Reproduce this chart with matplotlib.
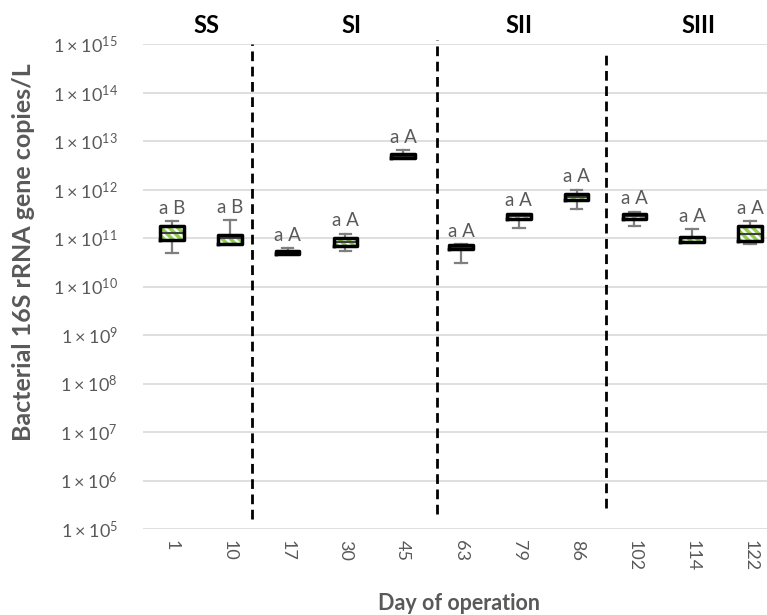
import math
import matplotlib
matplotlib.use("Agg")
import matplotlib.pyplot as plt
from matplotlib.ticker import FixedLocator, FuncFormatter

plt.rcParams['font.family'] = ['Lato', 'DejaVu Sans']
plt.rcParams['mathtext.fontset'] = 'custom'
plt.rcParams['mathtext.rm'] = 'Lato'
plt.rcParams['mathtext.default'] = 'regular'
plt.rcParams['hatch.linewidth'] = 2.5

# -----------------------------
# Data
# -----------------------------
days = ['1', '10', '17', '30', '45', '63', '79', '86', '102', '114', '122']
whis_hi = [2.2e11, 2.3e11, 6.2e10, 1.23e11, 6.6e12, 7.6e10, 3.2e11, 1.0e12, 3.5e11, 1.55e11, 2.2e11]
q3 = [1.75e11, 1.17e11, 5.5e10, 9.8e10, 5.4e12, 7.2e10, 3.2e11, 8.1e11, 3.2e11, 1.07e11, 1.74e11]
med = [1.25e11, 1.0e11, 5.1e10, 8.1e10, 4.9e12, 6.6e10, 2.8e11, 7.1e11, 2.8e11, 1.0e11, 1.23e11]
q1 = [9.1e10, 7.6e10, 4.7e10, 6.8e10, 4.5e12, 5.8e10, 2.5e11, 6.2e11, 2.45e11, 8.3e10, 8.7e10]
whis_lo = [4.9e10, 7.6e10, 4.7e10, 5.5e10, 4.5e12, 3.0e10, 1.6e11, 4.0e11, 1.8e11, 8.3e10, 7.6e10]
letters = ['a B', 'a B', 'a A', 'a A', 'a A', 'a A', 'a A', 'a A', 'a A', 'a A', 'a A']

stages = ['SS', 'SI', 'SII', 'SIII']
stage_x = [0.6, 3.1, 6.0, 9.1]
divider_x = [1.38, 4.58, 7.5]
divider_top = [1.0, 1.008, 0.981]
divider_bottom = [0.021, 0.031, 0.043]

stats = [dict(med=m, q1=a, q3=b, whislo=lo, whishi=hi, fliers=[])
         for m, a, b, lo, hi in zip(med, q1, q3, whis_lo, whis_hi)]
pos = list(range(len(days)))

# -----------------------------
# Figure
# -----------------------------
fig = plt.figure(figsize=(7.67, 6.15), dpi=100)
ax = fig.add_axes([143 / 767, 1 - 529 / 615, 636 / 767, 485 / 615])

grey = '#595959'
green = '#92d050'

# hatched fill layer
ax.bxp(stats, positions=pos, widths=0.41, patch_artist=True, capwidths=0.2,
       boxprops=dict(facecolor='white', edgecolor=green, hatch='\\\\\\\\', linewidth=0),
       whiskerprops=dict(color='#7f7f7f', linewidth=1.6),
       capprops=dict(color='#7f7f7f', linewidth=1.6),
       medianprops=dict(color='#404040', linewidth=1.5),
       zorder=3)
# black outline layer
ax.bxp(stats, positions=pos, widths=0.41, patch_artist=False, showcaps=False,
       boxprops=dict(color='black', linewidth=2.5),
       whiskerprops=dict(visible=False),
       medianprops=dict(visible=False),
       zorder=4)

for x, hi, lab in zip(pos, whis_hi, letters):
    ax.annotate(lab, (x, hi), xytext=(0, 3), textcoords='offset points',
                ha='center', va='bottom', fontsize=13.5, color=grey)

ax.set_yscale('log')
ax.set_ylim(1e5, 1e15)
ax.set_xlim(-0.5, len(days) - 0.5)
ax.yaxis.set_major_locator(FixedLocator([10.0 ** k for k in range(5, 16)]))
ax.yaxis.set_minor_locator(FixedLocator([]))
ax.yaxis.set_major_formatter(FuncFormatter(
    lambda v, p: r'$1\times10^{%d}$' % round(math.log10(v))))
ax.set_xticks(pos)
ax.set_xticklabels(days, rotation=270)
ax.tick_params(axis='y', length=0, pad=18, labelsize=13, labelcolor=grey)
ax.tick_params(axis='x', length=0, pad=8, labelsize=13, labelcolor=grey)
ax.grid(axis='y', color='#d9d9d9', linewidth=1.2, zorder=0)
ax.set_axisbelow(True)
for s in ax.spines.values():
    s.set_visible(False)

# stage dividers
trans = ax.get_xaxis_transform()
for x, top, bot in zip(divider_x, divider_top, divider_bottom):
    ax.plot([x, x], [bot, top], transform=trans, color='black', lw=2,
            linestyle=(0, (3.5, 2)), clip_on=False, zorder=5)

for x, lab in zip(stage_x, stages):
    ax.text(x, 1.015, lab, transform=trans, ha='center', va='bottom',
            fontsize=17, fontweight='bold', color='black')

fig.text(24 / 767, 1 - 252 / 615, 'Bacterial 16S rRNA gene copies/L', rotation=90,
         ha='center', va='center', fontsize=18, fontweight='bold', color=grey)
fig.text(459 / 767, 1 - 603 / 615, 'Day of operation', ha='center', va='center',
         fontsize=15.5, fontweight='bold', color=grey)

fig.savefig('out.png', dpi=100)
